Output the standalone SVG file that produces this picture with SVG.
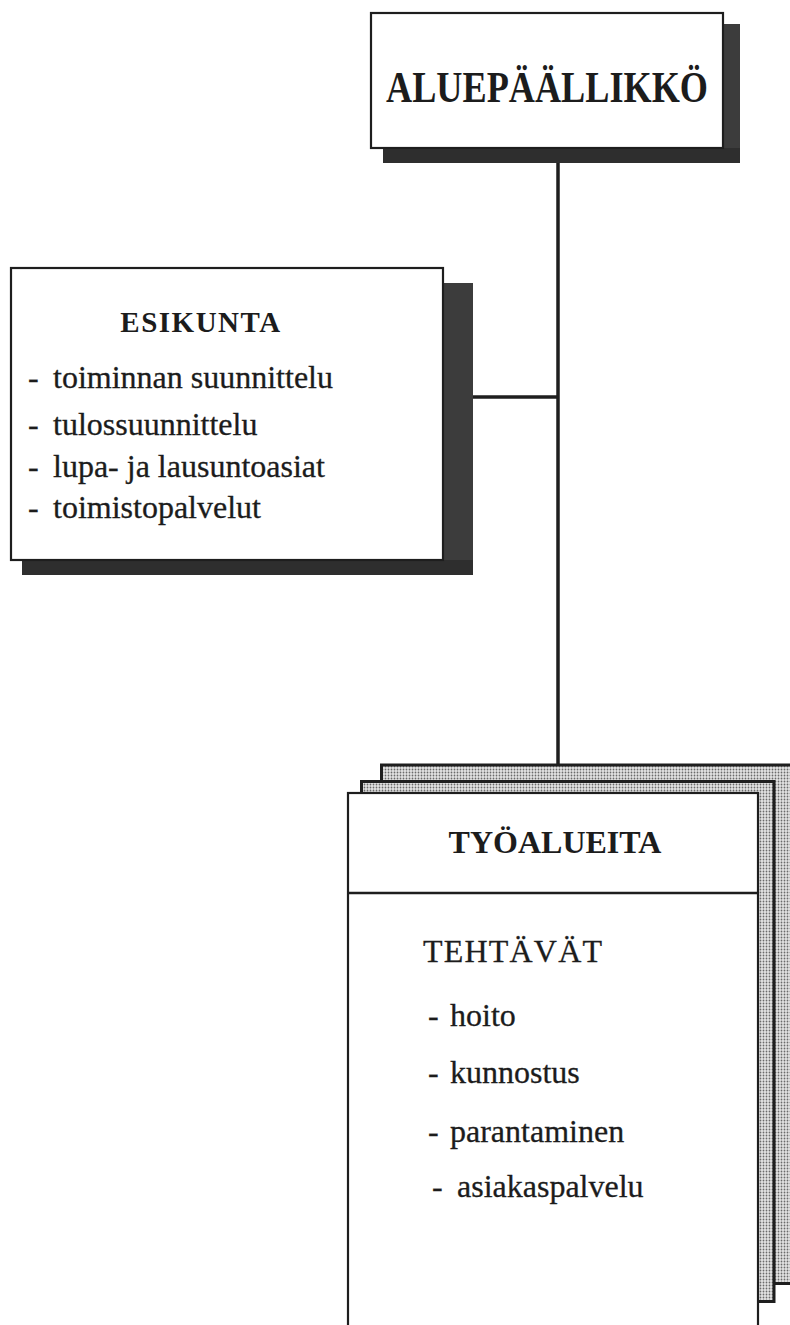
<svg xmlns="http://www.w3.org/2000/svg" width="790" height="1325" viewBox="0 0 790 1325">
  <defs>
    <!-- fine stipple used on the stacked back pages -->
    <pattern id="stipple" width="3" height="3" patternUnits="userSpaceOnUse">
      <rect width="3" height="3" fill="#e4e4e4"/>
      <circle cx="1.5" cy="1.5" r="0.9" fill="#6a6a6a"/>
    </pattern>
    <style>
      .box { fill: #ffffff; stroke: #1e1e1e; stroke-width: 2.2; }
      .shadow { fill: #2e2e2e; }
      .shadow-side { fill: #3c3c3c; }
      .page { fill: url(#stipple); stroke: #1e1e1e; stroke-width: 3; }
      .link { stroke: #1e1e1e; stroke-width: 3.5; fill: none; }
      .title { font-family: "Liberation Serif", "Times New Roman", serif; font-weight: bold; fill: #1c1c1c; }
      .item { font-family: "Liberation Serif", "Times New Roman", serif; fill: #1c1c1c; font-size: 32px; stroke: #1c1c1c; stroke-width: 0.3; }
    </style>
  </defs>

  <rect width="790" height="1325" fill="#ffffff"/>

  <!-- connectors -->
  <g id="connectors">
    <line class="link" x1="558" y1="163" x2="558" y2="782"/>
    <line class="link" x1="473" y1="397" x2="558" y2="397"/>
  </g>

  <!-- area manager -->
  <g id="aluepaallikko">
    <rect class="shadow-side" x="722" y="24" width="18" height="125"/>
    <rect class="shadow" x="383" y="148" width="357" height="15"/>
    <rect class="box" x="371" y="13" width="352" height="135"/>
    <text class="title" x="386" y="102" font-size="44" textLength="322" lengthAdjust="spacingAndGlyphs">ALUEPÄÄLLIKKÖ</text>
  </g>

  <!-- staff unit -->
  <g id="esikunta">
    <rect class="shadow-side" x="442" y="283" width="31" height="278"/>
    <rect class="shadow" x="22" y="560" width="451" height="15"/>
    <rect class="box" x="11" y="268" width="432" height="292"/>
    <text class="title" x="201" y="332" font-size="29" letter-spacing="1.5" text-anchor="middle">ESIKUNTA</text>
    <text class="item"><tspan x="28" y="388">-</tspan><tspan x="53" y="388">toiminnan suunnittelu</tspan></text>
    <text class="item"><tspan x="28" y="435">-</tspan><tspan x="53" y="435">tulossuunnittelu</tspan></text>
    <text class="item"><tspan x="28" y="477">-</tspan><tspan x="53" y="477">lupa- ja lausuntoasiat</tspan></text>
    <text class="item"><tspan x="28" y="518">-</tspan><tspan x="53" y="518">toimistopalvelut</tspan></text>
  </g>

  <!-- work areas: stack of pages -->
  <g id="tyoalueita">
    <rect class="page" x="381.5" y="765" width="430" height="518.5"/>
    <rect class="page" x="361.5" y="781.5" width="412.5" height="520"/>
    <rect class="box" x="348" y="793" width="410" height="560"/>
    <line x1="348" y1="893" x2="758" y2="893" stroke="#1e1e1e" stroke-width="2.5"/>
    <text class="title" x="555" y="853" font-size="32" text-anchor="middle">TYÖALUEITA</text>
    <text class="item" x="423" y="962" font-size="31" letter-spacing="1.2">TEHTÄVÄT</text>
    <text class="item"><tspan x="428" y="1026">-</tspan><tspan x="450" y="1026">hoito</tspan></text>
    <text class="item"><tspan x="428" y="1083">-</tspan><tspan x="450" y="1083">kunnostus</tspan></text>
    <text class="item"><tspan x="428" y="1142">-</tspan><tspan x="450" y="1142">parantaminen</tspan></text>
    <text class="item"><tspan x="432" y="1197">-</tspan><tspan x="457" y="1197">asiakaspalvelu</tspan></text>
  </g>
</svg>
